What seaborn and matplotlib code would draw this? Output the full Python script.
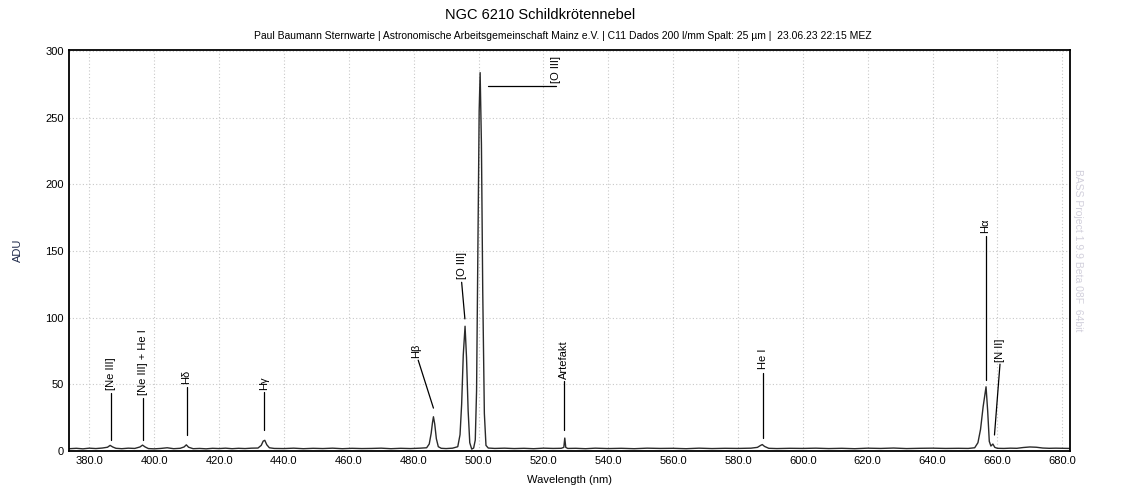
import matplotlib
matplotlib.use("Agg")
import matplotlib.pyplot as plt
import seaborn as sns
import pandas as pd

# ---- data ----
wavelength = [
    373.8, 376.0, 378.0, 380.0, 382.0, 384.0,
    385.6, 386.4, 387.2, 388.2, 390.0, 392.0,
    394.0, 395.6, 396.4, 397.2, 398.2, 400.0,
    402.0, 404.0, 406.0, 408.0, 409.2, 409.9,
    410.6, 412.0, 414.0, 416.0, 418.0, 420.0,
    422.0, 424.0, 426.0, 428.0, 430.0, 432.0,
    433.0, 433.6, 434.1, 434.7, 435.5, 437.0,
    440.0, 443.0, 446.0, 449.0, 452.0, 455.0,
    458.0, 461.0, 464.0, 467.0, 470.0, 473.0,
    476.0, 479.0, 482.0, 484.0, 484.8, 485.4,
    485.8, 486.1, 486.5, 487.0, 487.6, 488.5,
    490.0, 492.0, 493.6, 494.3, 494.8, 495.3,
    495.85, 496.3, 496.8, 497.3, 497.9, 498.5,
    499.0, 499.4, 499.8, 500.2, 500.5, 500.9,
    501.3, 501.8, 502.3, 503.0, 505.0, 508.0,
    511.0, 514.0, 517.0, 520.0, 523.0, 525.5,
    526.3, 526.6, 526.9, 527.5, 530.0, 533.0,
    536.0, 540.0, 544.0, 548.0, 552.0, 556.0,
    560.0, 564.0, 568.0, 572.0, 576.0, 580.0,
    584.0, 586.0, 587.0, 587.5, 588.2, 589.5,
    592.0, 596.0, 600.0, 604.0, 608.0, 612.0,
    616.0, 620.0, 624.0, 628.0, 632.0, 636.0,
    640.0, 644.0, 648.0, 651.0, 653.0, 654.0,
    654.8, 655.6, 656.5, 657.0, 657.5, 658.0,
    658.6, 659.2, 660.0, 662.0, 664.0, 666.0,
    668.0, 670.0, 672.0, 674.0, 676.0, 678.0,
    680.0, 682.4,
]
adu = [
    1.5, 1.8, 1.4, 1.9, 1.6, 2.0,
    2.6, 4.0, 2.8, 1.8, 1.5, 1.9,
    1.7, 2.8, 4.2, 2.8, 1.6, 1.4,
    1.7, 2.2, 1.5, 1.8, 2.8, 4.4,
    2.6, 1.5, 1.7, 1.4, 1.8, 1.6,
    1.9, 1.5, 1.8, 1.6, 1.9, 2.0,
    4.0, 7.2, 7.8, 4.5, 2.2, 1.7,
    1.6, 1.9, 1.5, 1.8, 1.6, 1.9,
    1.5, 1.8, 1.6, 1.7, 1.9, 1.5,
    1.8, 1.6, 1.9, 2.2, 5.0, 13.0,
    21.0, 25.5, 20.0, 9.0, 3.0, 1.8,
    1.6, 1.9, 3.0, 12.0, 35.0, 72.0,
    93.5, 70.0, 30.0, 6.0, 1.2, 2.0,
    8.0, 45.0, 150.0, 255.0, 284.0, 230.0,
    120.0, 28.0, 4.0, 2.0, 1.7, 1.9,
    1.6, 1.8, 1.5, 1.9, 1.7, 1.8,
    2.5, 9.5, 2.5, 1.7, 1.8, 1.5,
    1.9, 1.6, 1.8, 1.5, 1.9, 1.7,
    1.8, 1.5, 1.9, 1.6, 1.8, 1.7,
    1.9, 2.5, 4.0, 4.6, 3.2, 1.8,
    1.6, 1.8, 1.7, 1.9, 1.6, 1.8,
    1.5, 1.9, 1.7, 2.0, 1.6, 1.8,
    1.9, 1.7, 1.8, 1.7, 2.2, 6.0,
    16.0, 33.0, 48.0, 30.0, 7.0, 3.5,
    5.0, 2.5, 1.8, 1.7, 1.9, 1.8,
    2.4, 2.8, 2.6, 2.0, 1.8, 1.9,
    1.8, 1.7,
]

# line labels: text, text anchor (x, y), leader line from (x0, y0) to (x1, y1)
line_labels = ["[Ne III]", "[Ne III] + He I", "H\u03b4", "H\u03b3", "H\u03b2",
               "[O III]", "[O III]", "Artefakt", "He I", "H\u03b1", "[N II]"]
label_x = [386.8, 396.6, 409.9, 434.0, 480.7, 494.8, 524.0, 526.5, 587.7, 656.3, 660.8]
label_y = [45.5, 41.5, 50.0, 45.5, 69.5, 129.0, 276.0, 53.5, 61.0, 163.5, 67.0]
lead_x0 = [386.7, 396.6, 410.0, 433.9, 481.4, 494.8, 503.0, 526.5, 587.8, 656.4, 660.8]
lead_y0 = [43.0, 39.5, 48.0, 44.0, 68.0, 126.5, 274.3, 52.5, 58.5, 161.0, 65.0]
lead_x1 = [386.7, 396.6, 410.0, 433.9, 486.1, 495.8, 524.0, 526.5, 587.8, 656.4, 659.1]
lead_y1 = [8.0, 8.0, 11.5, 15.5, 32.0, 99.0, 274.3, 15.5, 9.3, 53.0, 11.8]

x_ticks = [380, 400, 420, 440, 460, 480, 500, 520, 540, 560, 580, 600, 620, 640, 660, 680]
y_ticks = [0, 50, 100, 150, 200, 250, 300]

title = "NGC 6210 Schildkrötennebel"
subtitle = ("Paul Baumann Sternwarte | Astronomische Arbeitsgemeinschaft Mainz e.V. | "
            "C11 Dados 200 l/mm Spalt: 25 \u00b5m |  23.06.23 22:15 MEZ")
watermark = "BASS Project 1.9.9 Beta 08F  64bit"

# ---- plotting ----
sns.set_theme(style="white")
plt.rcParams["font.family"] = ["Liberation Sans", "DejaVu Sans"]

df = pd.DataFrame({"Wavelength (nm)": wavelength, "ADU": adu})

fig = plt.figure(figsize=(11.26, 5.0), dpi=100)
ax = fig.add_axes([0.0615, 0.0986, 0.8888, 0.8014])

sns.lineplot(data=df, x="Wavelength (nm)", y="ADU", ax=ax, color="#2a2a2a",
             linewidth=1.0, estimator=None, sort=False)

ax.set_xlim(373.8, 682.4)
ax.set_ylim(0, 301)
ax.set_xticks(x_ticks)
ax.set_xticklabels([f"{t:.1f}" for t in x_ticks])
ax.set_yticks(y_ticks)
ax.set_yticklabels([str(t) for t in y_ticks])
ax.tick_params(axis="both", length=0, labelsize=8, colors="black", pad=4)
ax.grid(True, color="#c8c8c8", linestyle=(0, (1, 2)), linewidth=0.8)
for s in ax.spines.values():
    s.set_visible(True)
    s.set_color("black")
    s.set_linewidth(1.3)

ax.set_xlabel("Wavelength (nm)", fontsize=8, color="black", labelpad=6)
ax.set_ylabel("ADU", fontsize=8, color="#1f2a4a", labelpad=16)

for t, tx, ty, x0, y0, x1, y1 in zip(line_labels, label_x, label_y,
                                      lead_x0, lead_y0, lead_x1, lead_y1):
    ax.plot([x0, x1], [y0, y1], color="black", linewidth=0.9)
    ax.text(tx, ty, t, rotation=90, ha="center", va="bottom", fontsize=8,
            color="black")

fig.text(0.48, 0.97, title, ha="center", va="center", fontsize=10.5, color="black")
fig.text(0.5, 0.928, subtitle, ha="center", va="center", fontsize=7.5, color="black")
fig.text(0.957, 0.5, watermark, rotation=270, ha="center", va="center",
         fontsize=7.5, color="#d2d0dc")

fig.savefig("out.png", dpi=100)
